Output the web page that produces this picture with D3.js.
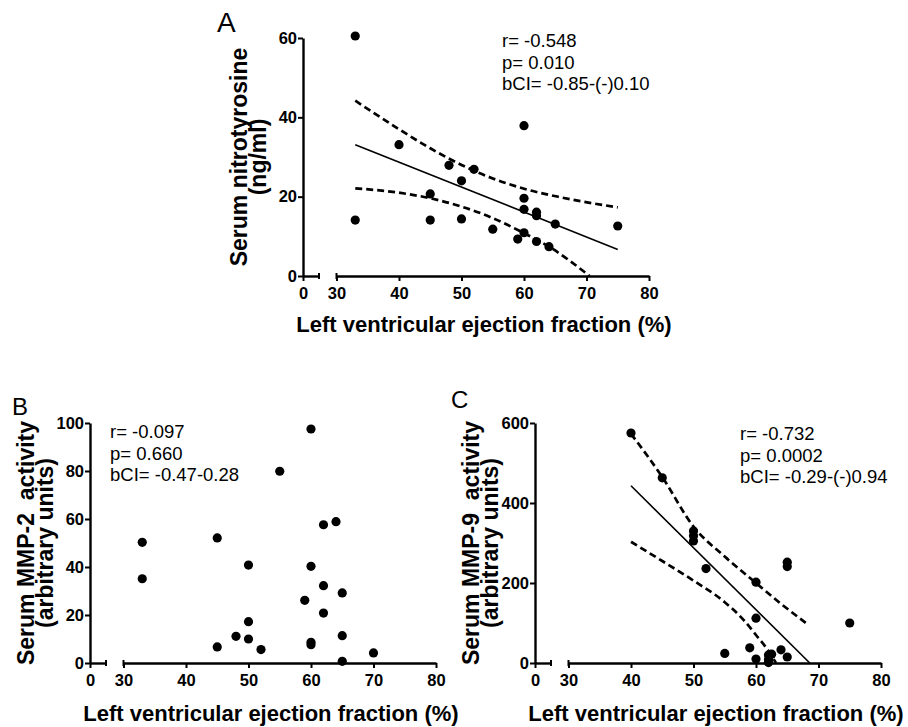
<!DOCTYPE html>
<html>
<head>
<meta charset="utf-8">
<script src="https://cdn.jsdelivr.net/npm/d3@7"></script>
<style>
    body { margin: 0; background: #fff; }
    svg text { font-family: "Liberation Sans", Arial, sans-serif; fill: #000; }
</style>
</head>
<body>
<script>
// ---- data ----
const xTicks = [30, 40, 50, 60, 70, 80];

// A: serum nitrotyrosine (ng/ml)
const efA = [33, 33, 40, 45, 45, 48, 50, 50, 52, 55, 59, 60, 60, 60, 60, 62, 62, 62, 64, 65, 75];
const nitroA = [60.5, 14.1, 33.1, 20.7, 14.1, 27.9, 24.0, 14.4, 26.9, 11.8, 9.3, 37.9, 19.6, 16.8, 10.9, 16.1, 15.2, 8.7, 7.4, 13.1, 12.6];
const yTicksA = [0, 20, 40, 60];
const fitA = [[33, 33.1], [75, 6.7]];
const upperA = [[33, 44.2], [40, 37.0], [45, 32.2], [50, 28.0], [55, 24.6], [60, 22.0], [66, 19.8], [75, 17.3]];
const lowerA = [[33, 22.1], [40, 21.0], [45, 19.6], [50, 17.5], [55, 14.6], [60, 10.8], [64, 7.4], [70.5, 0]];
const statsA = ["r= -0.548", "p= 0.010", "bCI= -0.85-(-)0.10"];

// B: serum MMP-2 activity
const efB = [33, 33, 45, 45, 48, 50, 50, 50, 52, 55, 59, 60, 60, 60, 60, 62, 62, 62, 64, 65, 65, 65, 70];
const mmp2B = [50.3, 35.1, 52.1, 6.7, 11.1, 40.8, 17.2, 10.0, 5.6, 79.9, 26.1, 97.5, 40.3, 8.6, 7.6, 57.6, 32.2, 20.8, 58.9, 29.2, 11.4, 0.7, 4.2];
const yTicksB = [0, 20, 40, 60, 80, 100];
const statsB = ["r= -0.097", "p= 0.660", "bCI= -0.47-0.28"];

// C: serum MMP-9 activity
const efC = [40, 45, 50, 50, 50, 52, 55, 59, 60, 60, 60, 62, 62, 62, 62.5, 64, 65, 65, 65, 75];
const mmp9C = [575, 463, 330, 318, 305, 236, 24, 38, 202, 112, 10, 20, 9, 1, 22, 33, 15, 252, 241, 100];
const yTicksC = [0, 200, 400, 600];
const fitC = [[40, 443], [68.6, 0]];
const upperC = [[40, 573], [45, 465], [50, 341], [55, 266], [60, 200], [64, 148], [68, 100]];
const lowerC = [[40, 303], [45, 255], [50, 206], [55, 152], [58, 108], [60, 70], [62, 30], [63.2, 0]];
const statsC = ["r= -0.732", "p= 0.0002", "bCI= -0.29-(-)0.94"];

const xTitle = "Left ventricular ejection fraction (%)";

const svg = d3.select("body").append("svg")
    .attr("width", 908)
    .attr("height", 727);

function drawPanel(p) {
    const g = svg.append("g");

    // broken x axis: a short stub for 0, then 30..80
    const xStub = d3.scaleLinear().domain([0, 1]).range([p.ox, p.ox + 16]);
    const x = d3.scaleLinear().domain([30, 80]).range([p.ox + 33.5, p.ox + 346]);
    const y = d3.scaleLinear().domain([0, p.yMax]).range([p.y0, p.yTop]);

    const styleAxis = sel => {
        sel.select(".domain").attr("stroke", "#000").attr("stroke-width", 2.4);
        sel.selectAll(".tick line").attr("stroke", "#000").attr("stroke-width", 2);
        sel.selectAll(".tick text")
            .attr("font-size", 16.5)
            .attr("font-weight", "bold")
            .attr("fill", "#000");
    };

    g.append("g")
        .attr("transform", `translate(0,${p.y0})`)
        .call(d3.axisBottom(xStub).tickValues([0]).tickFormat(d3.format("d"))
            .tickSize(5).tickSizeOuter(0).tickPadding(6))
        .call(styleAxis);

    g.append("g")
        .attr("transform", `translate(0,${p.y0})`)
        .call(d3.axisBottom(x).tickValues(xTicks).tickSize(5).tickSizeOuter(0).tickPadding(6))
        .call(styleAxis);

    // caps at the ends of the break
    [p.ox + 16, p.ox + 33.5].forEach(cx => {
        g.append("line")
            .attr("x1", cx).attr("x2", cx)
            .attr("y1", p.y0 - 3).attr("y2", p.y0 + 3)
            .attr("stroke", "#000").attr("stroke-width", 2);
    });

    g.append("g")
        .attr("transform", `translate(${p.ox},0)`)
        .call(d3.axisLeft(y).tickValues(p.yTicks).tickSize(5).tickSizeOuter(0).tickPadding(1))
        .call(styleAxis);

    // regression line and confidence band
    const straight = d3.line()
        .x(d => x(d[0]))
        .y(d => y(d[1]));

    const curved = d3.line()
        .x(d => x(d[0]))
        .y(d => y(d[1]))
        .curve(d3.curveMonotoneX);

    if (p.fit) {
        g.append("path")
            .attr("d", straight(p.fit))
            .attr("fill", "none")
            .attr("stroke", "#000")
            .attr("stroke-width", 1.6);
    }

    [p.upper, p.lower].forEach(band => {
        if (!band) return;
        g.append("path")
            .attr("d", curved(band))
            .attr("fill", "none")
            .attr("stroke", "#000")
            .attr("stroke-width", 2.7)
            .attr("stroke-dasharray", "7,4");
    });

    g.append("g")
        .selectAll("circle")
        .data(p.xs.map((v, i) => [v, p.ys[i]]))
        .join("circle")
        .attr("cx", d => x(d[0]))
        .attr("cy", d => y(d[1]))
        .attr("r", 4.6)
        .attr("fill", "#000");

    // statistics text
    g.append("text")
        .attr("x", p.statX)
        .attr("y", p.statY)
        .attr("font-size", 18.5)
        .selectAll("tspan")
        .data(p.stats)
        .join("tspan")
        .attr("x", p.statX)
        .attr("dy", (d, i) => i == 0 ? 0 : 21.5)
        .text(d => d);

    // axis titles
    g.append("text")
        .attr("x", p.ox + 181)
        .attr("y", p.y0 + p.titleDy)
        .attr("text-anchor", "middle")
        .attr("font-size", 22)
        .attr("font-weight", "bold")
        .text(xTitle);

    const yMid = (p.y0 + p.yTop) / 2;
    p.yTitle.forEach((t, i) => {
        const tx = p.ox - (i == 0 ? 56 : 37);
        g.append("text")
            .attr("transform", `translate(${tx},${yMid}) rotate(-90)`)
            .attr("text-anchor", "middle")
            .attr("font-size", 23)
            .attr("font-weight", "bold")
            .attr("xml:space", "preserve")
            .style("white-space", "pre")
            .text(t);
    });

    g.append("text")
        .attr("x", p.labelX)
        .attr("y", p.labelY)
        .attr("font-size", p.labelSize)
        .text(p.label);
}

drawPanel({
    ox: 303, y0: 276, yTop: 38, yMax: 60, yTicks: yTicksA,
    xs: efA, ys: nitroA, fit: fitA, upper: upperA, lower: lowerA,
    stats: statsA, statX: 502, statY: 47, titleDy: 56,
    yTitle: ["Serum nitrotyrosine", "(ng/ml)"],
    label: "A", labelX: 217, labelY: 32, labelSize: 28
});

drawPanel({
    ox: 90, y0: 663, yTop: 423, yMax: 100, yTicks: yTicksB,
    xs: efB, ys: mmp2B,
    stats: statsB, statX: 110, statY: 438, titleDy: 58,
    yTitle: ["Serum MMP-2  activity", "(arbitrary units)"],
    label: "B", labelX: 12, labelY: 415, labelSize: 24
});

drawPanel({
    ox: 535, y0: 663, yTop: 423, yMax: 600, yTicks: yTicksC,
    xs: efC, ys: mmp9C, fit: fitC, upper: upperC, lower: lowerC,
    stats: statsC, statX: 740, statY: 440, titleDy: 58,
    yTitle: ["Serum MMP-9  activity", "(arbitrary units)"],
    label: "C", labelX: 451, labelY: 408, labelSize: 24
});
</script>
</body>
</html>
